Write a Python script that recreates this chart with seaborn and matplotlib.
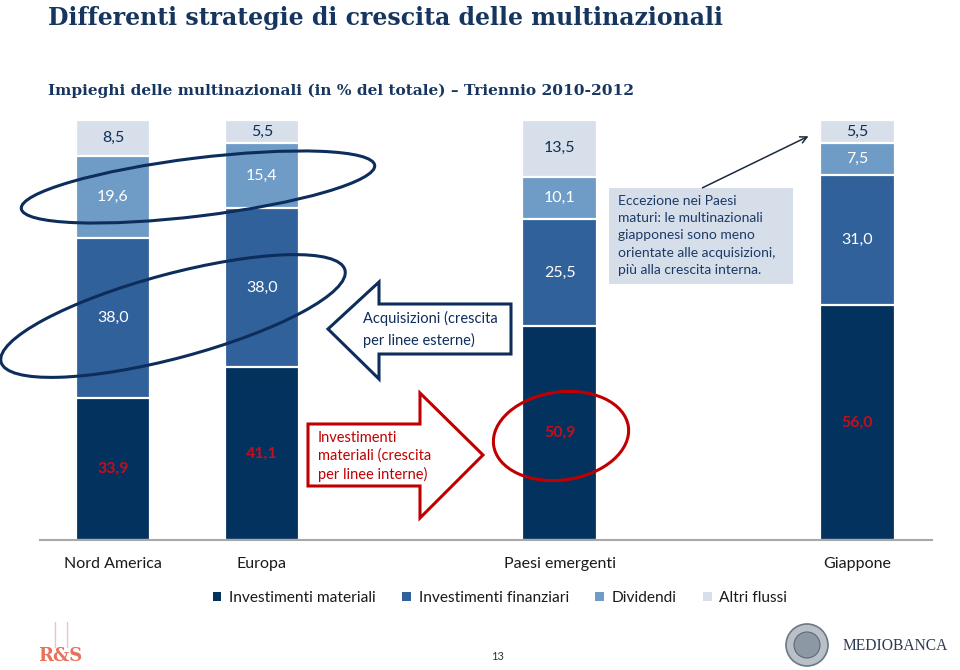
import numpy as np
import pandas as pd
import matplotlib
matplotlib.use("Agg")
import matplotlib.pyplot as plt
import seaborn as sns
from matplotlib.patches import Ellipse, Polygon, Rectangle, Patch, Circle

# ---------------- data ----------------
regions = ["Nord America", "Europa", "Paesi emergenti", "Giappone"]
series = ["Investimenti materiali", "Investimenti finanziari", "Dividendi", "Altri flussi"]
inv_materiali = [33.9, 41.1, 50.9, 56.0]
inv_finanziari = [38.0, 38.0, 25.5, 31.0]
dividendi = [19.6, 15.4, 10.1, 7.5]
altri_flussi = [8.5, 5.5, 13.5, 5.5]

# layout (slot on the category axis, leaves gaps as in the original)
slot = [0, 1, 3, 5]
colors = ["#04325f", "#31619a", "#6f9cc7", "#d7e0ea"]
label_colors = ["#c0101e", "white", "white", "#10305a"]

values = [inv_materiali, inv_finanziari, dividendi, altri_flussi]
rows = []
for si, s in enumerate(series):
    for ri, r in enumerate(regions):
        bottom = sum(values[k][ri] for k in range(si))
        rows.append(dict(region=r, slot=slot[ri], series=s, value=values[si][ri],
                         bottom=bottom, top=bottom + values[si][ri]))
df = pd.DataFrame(rows)

sns.set_theme(style="white")
plt.rcParams["font.family"] = ["Lato", "DejaVu Sans"]

W, H = 960, 670
fig = plt.figure(figsize=(W / 100, H / 100), dpi=100)
ax = fig.add_axes([40 / W, 1 - 540 / H, (932 - 40) / W, 420 / H])

for si in reversed(range(len(series))):
    sub = df[df.series == series[si]]
    sns.barplot(data=sub, x="slot", y="top", native_scale=True, orient="x",
                width=0.5, color=colors[si], saturation=1, errorbar=None,
                edgecolor="white", linewidth=1.6, ax=ax)

for _, r in df.iterrows():
    si = series.index(r.series)
    txt = f"{r.value:.1f}".replace(".", ",")
    ax.text(r.slot, r.bottom + r.value / 2, txt, ha="center", va="center",
            fontsize=11.5, color=label_colors[si],
            fontweight="bold" if si == 0 else "normal", zorder=6)

ax.set_xlim(-0.49, 5.5)
ax.set_ylim(0, 100)
ax.set_yticks([])
ax.set_xticks(slot)
ax.set_xticklabels(regions, fontsize=11.5, color="#1a1a1a")
ax.tick_params(axis="x", length=0, pad=12)
ax.set_xlabel("")
ax.set_ylabel("")
for sp in ["top", "left", "right"]:
    ax.spines[sp].set_visible(False)
ax.spines["bottom"].set_color("#a8a8a8")
ax.spines["bottom"].set_linewidth(1.5)

# ---------------- legend ----------------
handles = [Patch(facecolor=c, edgecolor="none", label=s) for c, s in zip(colors, series)]
fig.legend(handles=handles, loc="center", bbox_to_anchor=(500 / W, 1 - 598 / H),
           ncol=4, frameon=False, fontsize=11.2, handlelength=0.55, handleheight=0.55,
           handletextpad=0.5, columnspacing=1.7, labelcolor="#1a1a1a")

# ---------------- titles ----------------
fig.text(48 / W, 1 - 25 / H, "Differenti strategie di crescita delle multinazionali",
         fontfamily="DejaVu Serif", fontweight="bold", fontsize=17, color="#16365f",
         va="baseline", ha="left")
fig.text(48 / W, 1 - 95 / H,
         "Impieghi delle multinazionali (in % del totale) \u2013 Triennio 2010-2012",
         fontfamily="DejaVu Serif", fontweight="bold", fontsize=11.1, color="#16365f",
         va="baseline", ha="left")

# ---------------- annotation overlay (pixel coordinates) ----------------
ov = fig.add_axes([0, 0, 1, 1], zorder=10)
ov.set_xlim(0, W)
ov.set_ylim(H, 0)
ov.axis("off")
ov.patch.set_alpha(0)

navy = "#0d2d5c"
red = "#c00000"
ov.add_patch(Ellipse((198, 187), 356, 58, angle=-7, fill=False, ec=navy, lw=2.2))
ov.add_patch(Ellipse((173, 316), 356, 84, angle=-15, fill=False, ec=navy, lw=2.2))
ov.add_patch(Ellipse((561, 436), 136, 88, angle=-8, fill=False, ec=red, lw=2.2))

left_arrow = [(328, 329), (379, 282), (379, 304), (511, 304), (511, 354), (379, 354), (379, 379)]
ov.add_patch(Polygon(left_arrow, closed=True, fc="white", ec=navy, lw=2.2))
ov.text(363, 318, "Acquisizioni (crescita", fontsize=10.5, color=navy, va="center", ha="left")
ov.text(363, 340, "per linee esterne)", fontsize=10.5, color=navy, va="center", ha="left")

right_arrow = [(308, 424), (420, 424), (420, 393), (483, 455), (420, 518), (420, 486), (308, 486)]
ov.add_patch(Polygon(right_arrow, closed=True, fc="white", ec=red, lw=2.2))
for i, line in enumerate(["Investimenti", "materiali (crescita", "per linee interne)"]):
    ov.text(318, 438 + i * 18, line, fontsize=10.5, color=red, va="center", ha="left")

ov.add_patch(Rectangle((609, 188), 184, 96, fc="#d6dfe9", ec="none"))
note = ["Eccezione nei Paesi", "maturi: le multinazionali", "giapponesi sono meno",
        "orientate alle acquisizioni,", "più alla crescita interna."]
for i, line in enumerate(note):
    ov.text(618, 201 + i * 17.2, line, fontsize=10, color="#1b3a66", va="center", ha="left")
ov.annotate("", xy=(811, 135), xytext=(700, 189),
            arrowprops=dict(arrowstyle="->", color="#1c2a3c", lw=1.1, mutation_scale=12))

# ---------------- footer ----------------
ov.plot([55, 55], [622, 647], color="#e6c6bd", lw=1)
ov.plot([67, 67], [622, 647], color="#e6c6bd", lw=1)
ov.text(60, 656, "R&S", fontfamily="DejaVu Serif", fontweight="bold", fontsize=13,
        color="#e8715a", ha="center", va="center")
ov.text(497, 657, "13", fontsize=8, color="#333333", ha="center", va="center")
ov.add_patch(Circle((807, 645), 21, fc="#b9c0c8", ec="#6c7886", lw=1.2))
ov.add_patch(Circle((807, 645), 13, fc="#8d98a5", ec="#5d6875", lw=0.8))
ov.text(843, 646, "MEDIOBANCA", fontfamily="Liberation Serif", fontsize=11.2,
        color="#2c3b50", ha="left", va="center")

fig.savefig("out.png", dpi=100)
